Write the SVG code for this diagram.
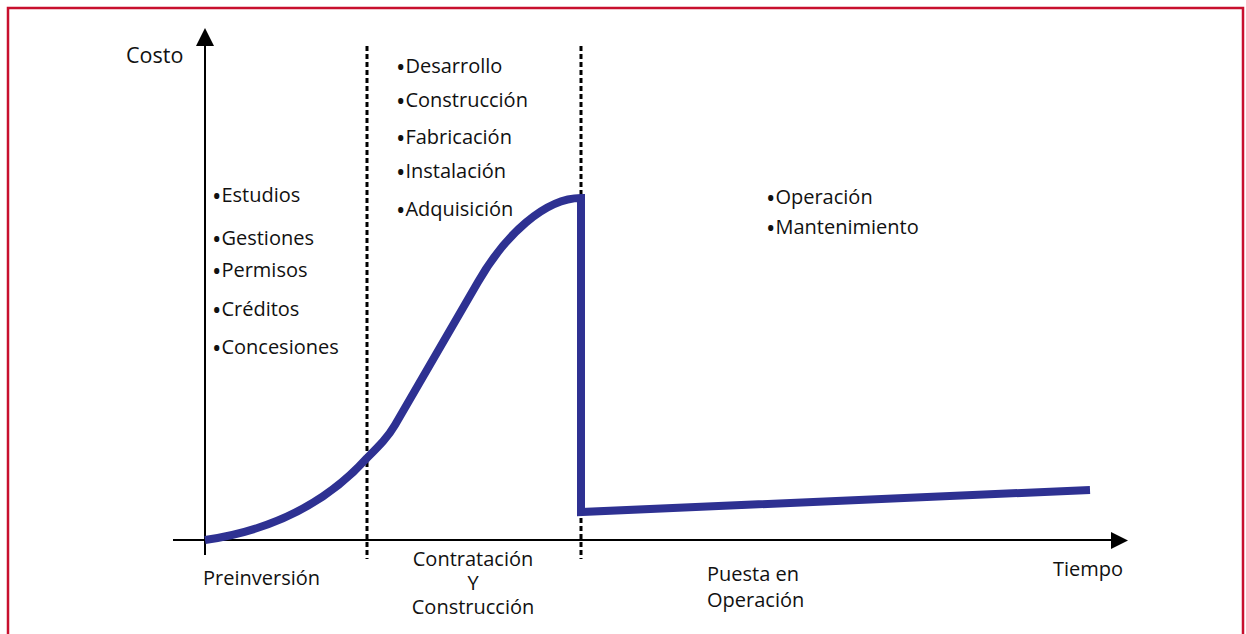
<svg xmlns="http://www.w3.org/2000/svg" width="1246" height="634" viewBox="0 0 1246 634">
<style>
text{font-family:"Open Sans","Noto Sans","Liberation Sans",sans-serif;font-size:20px;fill:#111}
.b{font-size:25px;baseline-shift:-3px}
.axis{stroke:#000;stroke-width:2;fill:none}
.div{stroke:#000;stroke-width:3;stroke-dasharray:5 3;fill:none}
.curve{stroke:#2e3192;stroke-width:8;fill:none;stroke-linejoin:miter}
</style>
<rect x="0" y="0" width="1246" height="634" fill="#fff"/>
<path d="M8,640 V8 H1243 V640" fill="none" stroke="#c8102e" stroke-width="2.5"/>
<g id="connectors">
<line class="axis" x1="205" y1="555" x2="205" y2="30"/>
<path d="M196,46 L205,28 L214,46 Z" fill="#000"/>
<line class="axis" x1="173" y1="540" x2="1113" y2="540"/>
<path d="M1111,532 L1128,540.5 L1111,549 Z" fill="#000"/>
<line class="div" x1="367" y1="46" x2="367" y2="559"/>
<line class="div" x1="581" y1="46" x2="581" y2="559"/>
<path class="curve" d="M205,540 C260,532 320,510 367,458 C380,445 388,437 395,425 L478,282 C505,235 545,198 581,198 L581,512 L1090,490"/>
</g>
<g id="axis-labels">
<text x="126" y="63" style="font-size:21.5px">Costo</text>
<text x="1053" y="576">Tiempo</text>
</g>
<g id="phase-preinversion">
<text x="203" y="585">Preinversión</text>
<text x="212" y="202"><tspan class="b">•</tspan>Estudios</text>
<text x="212" y="245"><tspan class="b">•</tspan>Gestiones</text>
<text x="212" y="277"><tspan class="b">•</tspan>Permisos</text>
<text x="212" y="316"><tspan class="b">•</tspan>Créditos</text>
<text x="212" y="354"><tspan class="b">•</tspan>Concesiones</text>
</g>
<g id="phase-contratacion">
<text x="473" y="566" text-anchor="middle">Contratación</text>
<text x="473" y="590" text-anchor="middle">Y</text>
<text x="473" y="614" text-anchor="middle">Construcción</text>
<text x="396" y="73"><tspan class="b">•</tspan>Desarrollo</text>
<text x="396" y="107"><tspan class="b">•</tspan>Construcción</text>
<text x="396" y="144"><tspan class="b">•</tspan>Fabricación</text>
<text x="396" y="178"><tspan class="b">•</tspan>Instalación</text>
<text x="396" y="216"><tspan class="b">•</tspan>Adquisición</text>
</g>
<g id="phase-operacion">
<text x="707" y="581">Puesta en</text>
<text x="707" y="607">Operación</text>
<text x="766" y="204"><tspan class="b">•</tspan>Operación</text>
<text x="766" y="234"><tspan class="b">•</tspan>Mantenimiento</text>
</g>
</svg>
